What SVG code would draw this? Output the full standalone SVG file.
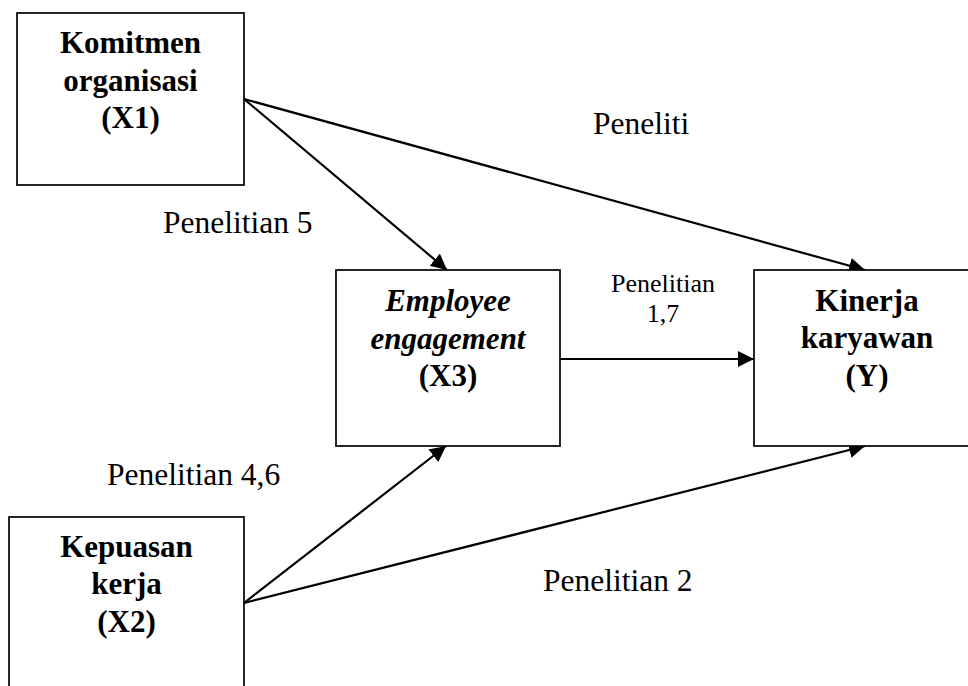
<svg xmlns="http://www.w3.org/2000/svg" width="968" height="686" viewBox="0 0 968 686">
  <style>
    .box { fill: #ffffff; stroke: #000000; stroke-width: 1.7; }
    .node { font-family: "Liberation Serif", "Times New Roman", serif; font-size: 31px; font-weight: bold; text-anchor: middle; fill: #000000; }
    .lbl { font-family: "Liberation Serif", "Times New Roman", serif; font-size: 31.5px; fill: #000000; }
    .small { font-family: "Liberation Serif", "Times New Roman", serif; font-size: 26px; text-anchor: middle; fill: #000000; }
    .edge { stroke: #000000; stroke-width: 2.2; fill: none; marker-end: url(#arrow); }
  </style>
  <defs>
    <marker id="arrow" markerUnits="userSpaceOnUse" markerWidth="17" markerHeight="17" refX="16" refY="8" orient="auto">
      <path d="M0,0 L16,8 L0,16 z" fill="#000000"/>
    </marker>
  </defs>
  <rect width="968" height="686" fill="#ffffff"/>

  <g id="connectors">
    <line class="edge" x1="244" y1="99" x2="447" y2="270"/>
    <line class="edge" x1="244" y1="99" x2="865" y2="270"/>
    <line class="edge" x1="560" y1="359" x2="754" y2="359"/>
    <line class="edge" x1="244" y1="603" x2="446" y2="446"/>
    <line class="edge" x1="244" y1="603" x2="865" y2="446"/>
  </g>

  <g id="x1">
    <rect class="box" x="17" y="13" width="227" height="172"/>
    <text class="node" x="130.5" y="53">Komitmen</text>
    <text class="node" x="130.5" y="90.5">organisasi</text>
    <text class="node" x="130.5" y="128">(X1)</text>
  </g>

  <g id="x3">
    <rect class="box" x="336" y="270" width="224" height="176"/>
    <text class="node" x="448" y="311" font-style="italic">Employee</text>
    <text class="node" x="448" y="348.5" font-style="italic">engagement</text>
    <text class="node" x="448" y="386">(X3)</text>
  </g>

  <g id="y">
    <rect class="box" x="754" y="270" width="226" height="176"/>
    <text class="node" x="867" y="310.5">Kinerja</text>
    <text class="node" x="867" y="348">karyawan</text>
    <text class="node" x="867" y="385.5">(Y)</text>
  </g>

  <g id="x2">
    <rect class="box" x="9" y="517" width="235" height="190"/>
    <text class="node" x="126.5" y="556.5">Kepuasan</text>
    <text class="node" x="126.5" y="594">kerja</text>
    <text class="node" x="126.5" y="631.5">(X2)</text>
  </g>

  <g id="labels">
    <text class="lbl" x="593" y="134">Peneliti</text>
    <text class="lbl" x="163" y="233">Penelitian 5</text>
    <text class="small" x="663" y="292">Penelitian</text>
    <text class="small" x="663" y="322">1,7</text>
    <text class="lbl" x="107" y="485">Penelitian 4,6</text>
    <text class="lbl" x="543" y="591">Penelitian 2</text>
  </g>
</svg>
